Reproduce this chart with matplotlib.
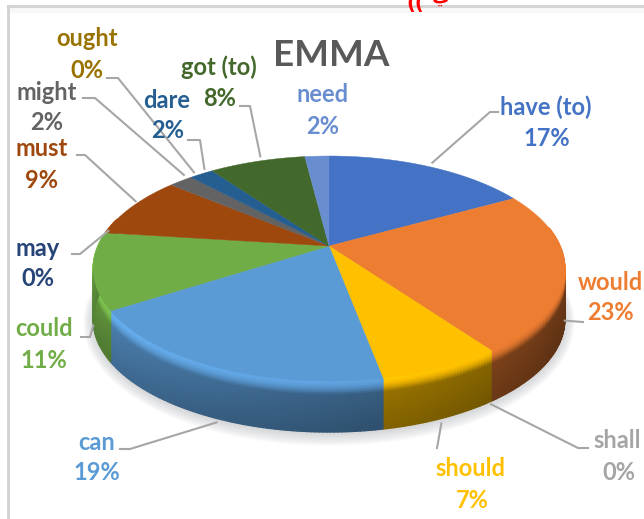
#!/usr/bin/env python3
import numpy as np
import matplotlib
matplotlib.use("Agg")
import matplotlib.pyplot as plt
from matplotlib.collections import PolyCollection
from matplotlib.colors import to_rgb

plt.rcParams['font.family'] = ['Lato', 'DejaVu Sans']

title = "EMMA"
modals = ["have (to)", "would", "shall", "should", "can", "could", "may",
          "must", "might", "ought", "dare", "got (to)", "need"]
shares = [17, 23, 0, 7, 19, 11, 0, 9, 2, 0, 2, 8, 2]
colors = ["#4472c4", "#ed7d31", "#a5a5a5", "#ffc000", "#5b9bd5", "#70ad47", "#264478",
          "#9e480e", "#636363", "#997300", "#255e91", "#43682b", "#698ed0"]

# label centres: name x, name y, percent x, percent y
label_pos = {
    "have (to)": (546, 107, 547, 138), "would": (610, 282, 610, 313),
    "shall": (617, 440, 619, 472), "should": (470, 469, 472, 501),
    "can": (97, 442, 97, 473), "could": (44, 329, 44, 361),
    "may": (38, 248, 38, 279), "must": (42, 149, 42, 180),
    "might": (47, 92, 47, 122), "ought": (87, 38, 87, 71),
    "dare": (167, 100, 168, 131), "got (to)": (219, 67, 220, 98),
    "need": (323, 94, 323, 126),
}
# leader lines: label end, knee, and how far below the rim the line stops
leaders = {
    "have (to)": ((498, 112), (490, 112), -4), "would": ((583, 322), (583, 322), 50),
    "shall": ((588, 448), (578, 448), 54), "should": ((437, 448), (437, 448), 56),
    "can": ((120, 449), (130, 449), 55), "could": ((81, 337), (90, 337), 55),
    "may": ((72, 254), (80, 254), -2), "must": ((77, 155), (85, 155), -5),
    "might": ((83, 98), (95, 98), -6), "ought": ((107, 78), (118, 78), -5),
    "dare": ((188, 140), (200, 140), -5), "got (to)": ((240, 106), (250, 106), -5),
}

# tilted disc: x/y of a point on the unit circle after a perspective tilt
cx, cy, A, B, k = 329, 246, 231, 108, 0.2
bevel, depth = 14, 51


def rim(deg):
    t = np.radians(deg)
    u, v = np.sin(t), np.cos(t)
    w = 1 + k * v
    return cx + A * u / w, cy - B * v / w


def side_factor(deg):
    # front wall is darker towards the right
    return 0.46 + 0.42 * np.clip((deg - 120) / 140, 0, 1) ** 1.1


fig = plt.figure(figsize=(6.44, 5.19), dpi=100)
ax = fig.add_axes([0, 0, 1, 1])
ax.set_xlim(0, 644)
ax.set_ylim(519, 0)
ax.axis('off')

# window frame
ax.plot([8, 8], [6, 519], color='#d2d2d2', lw=2, zorder=1)
ax.plot([8, 644], [6, 6], color='#d2d2d2', lw=2, zorder=1)
ax.fill_between([9, 644], 7, 13, color='#f8f8f8', lw=0, zorder=0.5)

# red heading running off the top
ax.text(415, 3, "((", color='#ff0000', fontsize=14, weight='bold', ha='center', va='center', family='DejaVu Sans')
ax.text(441, -3, "ي", color='#ff0000', fontsize=14, weight='bold', ha='center', va='center', family='DejaVu Sans')

edges = np.cumsum([0] + shares) * 3.6

# soft shadow under the disc
th = np.linspace(0, 360, 241)
rx, ry = rim(th)
for grow in range(12, 0, -1):
    sx = cx + (rx - cx) * (1 + grow * 0.0035)
    sy = cy + (ry - cy) * (1 + grow * 0.008) + depth + 1
    ax.fill(sx, sy, color='#8c9298', alpha=0.03, lw=0, zorder=2)

# wall and bevel, built from thin strips
polys, fills = [], []
for start, end, col in zip(edges[:-1], edges[1:], colors):
    if end <= start:
        continue
    base = np.array(to_rgb(col))
    lo, hi = max(start, 80), min(end, 285)
    if hi <= lo:
        continue
    steps = max(int((hi - lo) / 0.75), 1)
    angs = np.linspace(lo, hi, steps + 1)
    for a0, a1 in zip(angs[:-1], angs[1:]):
        x0, y0 = rim(a0)
        x1, y1 = rim(a1)
        f = side_factor((a0 + a1) / 2)
        levels = np.concatenate([np.linspace(0, bevel, 8), np.linspace(bevel, depth, 10)[1:]])
        for d0, d1 in zip(levels[:-1], levels[1:]):
            mid = (d0 + d1) / 2
            if mid < bevel:
                s = mid / bevel
                # light lip on the left and front, falling off into the wall
                lip = 0.8 + 0.42 * f
                shade = lip * (1 - s ** 2) + f * s ** 2
            else:
                s = (mid - bevel) / (depth - bevel)
                shade = f * (1 - 0.14 * s) * (0.7 if s > 0.97 else 1)
            rgb = np.clip(base * shade, 0, 1)
            polys.append([(x0, y0 + d0), (x1, y1 + d0), (x1, y1 + d1), (x0, y0 + d1)])
            fills.append(rgb)
# wide edges so neighbouring strips leave no seams
ax.add_collection(PolyCollection(polys, facecolors=fills, edgecolors=fills, linewidths=1.0, zorder=3))

# top face
for start, end, col in zip(edges[:-1], edges[1:], colors):
    if end <= start:
        continue
    ang = np.linspace(start, end, max(int(end - start), 2) + 1)
    x, y = rim(ang)
    ax.fill(np.r_[cx, x], np.r_[cy, y], color=col, lw=0.3, zorder=4)

# leader lines and labels
mids = (edges[:-1] + edges[1:]) / 2
for name, share, col, mid in zip(modals, shares, colors, mids):
    nx, ny, px, py = label_pos[name]
    if name in leaders:
        tail, knee, drop = leaders[name]
        ex, ey = rim(mid)
        if drop < 0:
            ex, ey = ex + 3, ey + drop
        else:
            ey = ey + drop
        ax.plot([tail[0], knee[0], ex], [tail[1], knee[1], ey], color='#a6a6a6', lw=1.5, zorder=5)
    ax.text(nx, ny, name, color=col, fontsize=17, weight='bold', ha='center', va='center', zorder=6)
    ax.text(px, py, f"{share}%", color=col, fontsize=17, weight='bold', ha='center', va='center', zorder=6)

ax.text(331, 56, title, color='#595959', fontsize=26.5, weight='bold', ha='center', va='center', zorder=6)

fig.savefig("out.png", dpi=100)
